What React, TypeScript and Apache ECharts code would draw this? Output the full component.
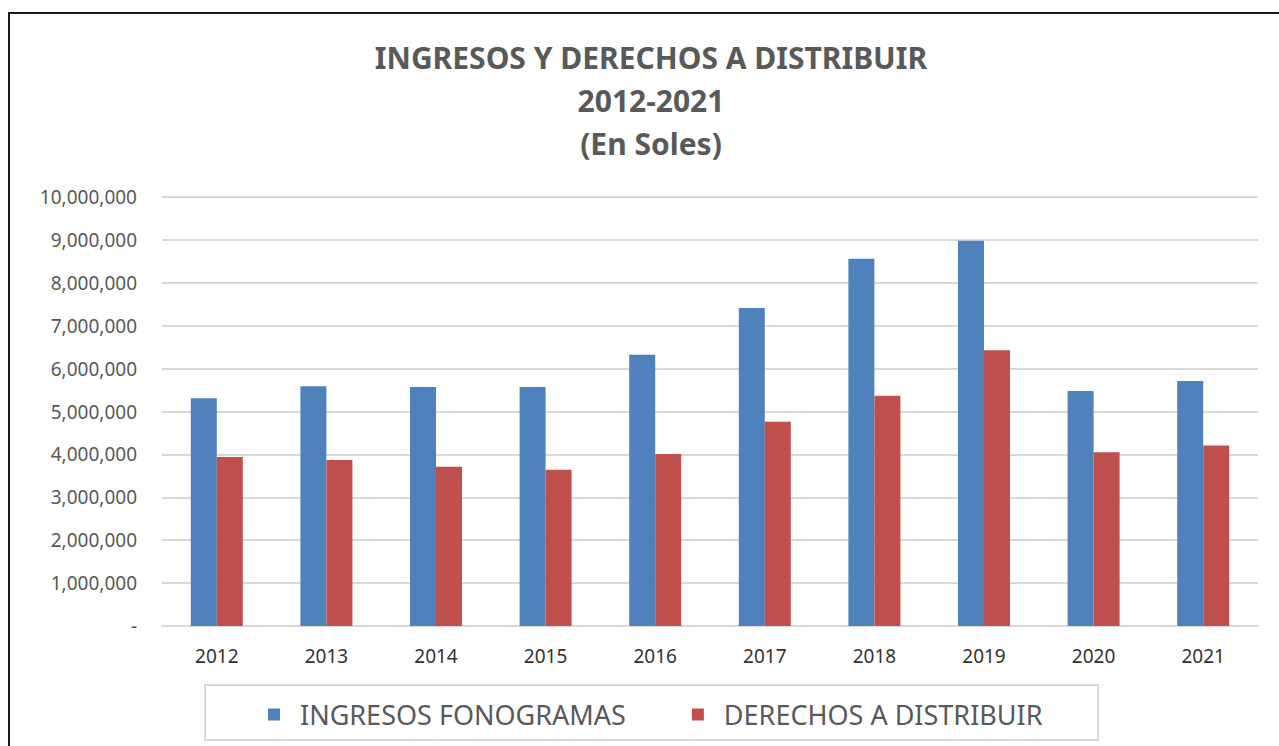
import React, { useEffect, useRef } from "react";
import * as echarts from "echarts";

const categories = ["2012", "2013", "2014", "2015", "2016", "2017", "2018", "2019", "2020", "2021"];
const ingresosFonogramas = [5310000, 5590000, 5570000, 5570000, 6320000, 7410000, 8560000, 8980000, 5480000, 5710000];
const derechosADistribuir = [3940000, 3870000, 3710000, 3640000, 4010000, 4760000, 5370000, 6430000, 4050000, 4210000];
const titleLines = ["INGRESOS Y DERECHOS A DISTRIBUIR", "2012-2021", "(En Soles)"];
const seriesNames = ["INGRESOS FONOGRAMAS", "DERECHOS A DISTRIBUIR"];

const FONT = "Noto Sans";

export default function App() {
  const ref = useRef<HTMLDivElement>(null);
  useEffect(() => {
    if (!ref.current) return;
    const chart = echarts.init(ref.current, undefined, { renderer: "svg" });
    chart.setOption({
      animation: false,
      backgroundColor: "#ffffff",
      graphic: [
        {
          type: "rect",
          shape: { x: 9, y: 13, width: 1300, height: 760 },
          style: { fill: "none", stroke: "#1a1a1a", lineWidth: 2 },
          silent: true,
        },
        {
          type: "rect",
          shape: { x: 205, y: 685, width: 893, height: 55 },
          style: { fill: "none", stroke: "#d9d9d9", lineWidth: 2 },
          silent: true,
        },
        ...titleLines.map((t, i) => ({
          type: "text",
          x: 651,
          y: 57 + i * 43,
          style: {
            text: t,
            fill: "#595959",
            font: `bold 30px "${FONT}"`,
            textAlign: "center",
            textVerticalAlign: "middle",
          },
        })),
      ],
      grid: { left: 162, right: 21, top: 197, bottom: 120, containLabel: false },
      legend: {
        data: seriesNames,
        left: 263,
        top: 696,
        icon: "rect",
        itemWidth: 12,
        itemHeight: 12,
        itemGap: 66,
        textStyle: { color: "#595959", fontSize: 27, fontFamily: FONT, padding: [0, 0, 0, 15] },
      },
      xAxis: {
        type: "category",
        data: categories,
        axisLine: { lineStyle: { color: "#d9d9d9", width: 2 } },
        axisTick: { show: false },
        axisLabel: { color: "#333333", fontSize: 19, fontFamily: FONT, margin: 20 },
      },
      yAxis: {
        type: "value",
        min: 0,
        max: 10000000,
        interval: 1000000,
        axisLine: { show: false },
        axisTick: { show: false },
        splitLine: { lineStyle: { color: "#d9d9d9", width: 2 } },
        axisLabel: {
          color: "#595959",
          fontSize: 19,
          fontFamily: FONT,
          margin: 25,
          formatter: (v: number) => (v === 0 ? "-" : v.toLocaleString("en-US")),
        },
      },
      series: [
        {
          name: seriesNames[0],
          type: "bar",
          data: ingresosFonogramas,
          itemStyle: { color: "#4F81BD" },
          barWidth: 26,
          barGap: "0%",
        },
        {
          name: seriesNames[1],
          type: "bar",
          data: derechosADistribuir,
          itemStyle: { color: "#C0504D" },
          barWidth: 26,
          barGap: "0%",
        },
      ],
    });
    return () => chart.dispose();
  }, []);
  return (
    <div
      ref={ref}
      style={{ position: "fixed", left: 0, top: 0, width: 1279, height: 746 }}
    />
  );
}
